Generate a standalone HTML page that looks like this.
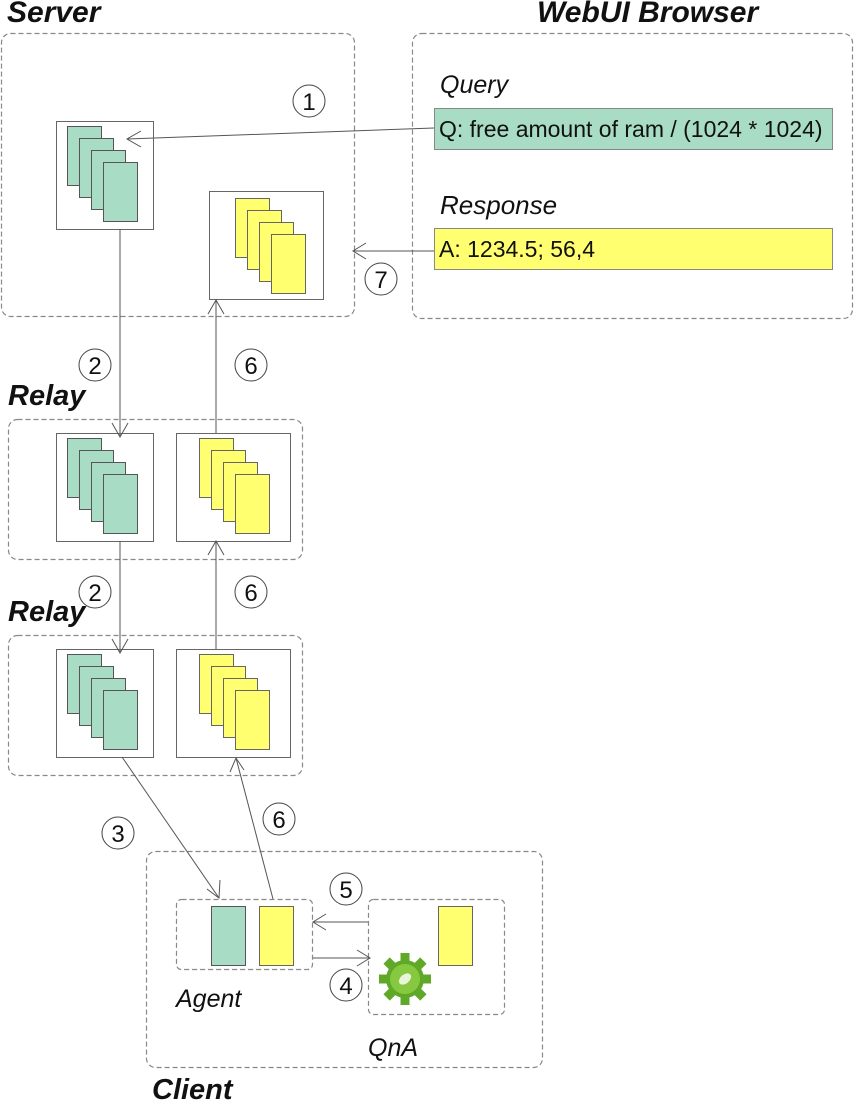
<!DOCTYPE html>
<html><head><meta charset="utf-8"><style>
html,body{margin:0;padding:0;background:#fff;}
svg{display:block;}
text{font-family:"Liberation Sans",Arial,sans-serif;fill:#111;}
.h{font-weight:bold;font-style:italic;font-size:30px;}
.i{font-style:italic;font-size:25px;}
.n{font-size:24px;}
</style></head><body>
<svg width="854" height="1102" viewBox="0 0 854 1102" xmlns="http://www.w3.org/2000/svg">
<defs>
<g id="gs"><rect x="0" y="0" width="34" height="59" fill="#a8dcc4" stroke="#555"/><rect x="12" y="12" width="34" height="59" fill="#a8dcc4" stroke="#555"/><rect x="24" y="24" width="34" height="59" fill="#a8dcc4" stroke="#555"/><rect x="36" y="36" width="34" height="59" fill="#a8dcc4" stroke="#555"/></g>
<g id="ys"><rect x="0" y="0" width="34" height="59" fill="#ffff70" stroke="#666"/><rect x="12" y="12" width="34" height="59" fill="#ffff70" stroke="#666"/><rect x="24" y="24" width="34" height="59" fill="#ffff70" stroke="#666"/><rect x="36" y="36" width="34" height="59" fill="#ffff70" stroke="#666"/></g>
</defs>
<g fill="none" stroke="#888" stroke-dasharray="5,3" stroke-width="1.2">
<rect x="1.5" y="33.5" width="353" height="283" rx="9"/>
<rect x="412.5" y="33.5" width="440" height="285" rx="9"/>
<rect x="8.5" y="419.5" width="294" height="140" rx="9"/>
<rect x="8.5" y="635.5" width="294" height="140" rx="9"/>
<rect x="146.5" y="851.5" width="396" height="216" rx="9"/>
<rect x="176.5" y="899.5" width="136" height="70" rx="5"/>
<rect x="368.5" y="899.5" width="136" height="115" rx="5"/>
</g>
<text class="h" x="7" y="22">Server</text>
<text class="h" x="537" y="22">WebUI Browser</text>
<text class="h" x="8" y="405" style="font-size:29px">Relay</text>
<text class="h" x="8" y="621" style="font-size:29px">Relay</text>
<text class="h" x="152" y="1099" style="font-size:29px">Client</text>
<text class="i" x="440" y="93">Query</text>
<text class="i" x="440" y="214" style="font-size:26px">Response</text>
<text class="i" x="176" y="1007">Agent</text>
<text class="i" x="368" y="1056">QnA</text>
<rect x="434.5" y="108.5" width="398" height="41" fill="#a8dcc4" stroke="#888"/>
<text x="439" y="137" style="font-size:23px">Q: free amount of ram / (1024 * 1024)</text>
<rect x="434.5" y="228.5" width="398" height="41" fill="#ffff70" stroke="#888"/>
<text x="439" y="257" style="font-size:23px">A: 1234.5; 56,4</text>
<g fill="#fff" stroke="#666">
<rect x="56.5" y="121.5" width="97" height="108"/>
<rect x="209.5" y="191.5" width="114" height="108"/>
<rect x="56.5" y="433.5" width="97" height="108"/>
<rect x="176.5" y="433.5" width="114" height="108"/>
<rect x="56.5" y="649.5" width="97" height="108"/>
<rect x="176.5" y="649.5" width="114" height="108"/>
</g>
<use href="#gs" x="67.5" y="126.5"/>
<use href="#ys" x="235.5" y="198.5"/>
<use href="#gs" x="67.5" y="438.5"/>
<use href="#ys" x="199.5" y="438.5"/>
<use href="#gs" x="67.5" y="654.5"/>
<use href="#ys" x="199.5" y="654.5"/>
<rect x="211.5" y="906.5" width="34" height="59" fill="#a8dcc4" stroke="#555"/>
<rect x="259.5" y="906.5" width="34" height="59" fill="#ffff70" stroke="#666"/>
<rect x="438.5" y="906.5" width="34" height="59" fill="#ffff70" stroke="#666"/>
<g stroke="#555" fill="none" stroke-width="1">
<line x1="434" y1="128" x2="127" y2="139"/><polyline points="141,131 127,139 141,147"/>
<line x1="434" y1="251" x2="353" y2="251"/><polyline points="366,243 353,251 366,259"/>
<line x1="120" y1="229" x2="120" y2="437"/><polyline points="112,423 120,437 128,423"/>
<line x1="216" y1="300" x2="216" y2="433"/><polyline points="208,314 216,300 224,314"/>
<line x1="120" y1="541" x2="120" y2="653"/><polyline points="112,639 120,653 128,639"/>
<line x1="216" y1="541" x2="216" y2="649"/><polyline points="208,555 216,541 224,555"/>
<line x1="122" y1="757" x2="219" y2="898"/><polyline points="207,889 219,898 220,880"/>
<line x1="273" y1="899" x2="236" y2="758"/><polyline points="230,772 236,758 244,770"/>
<line x1="368" y1="922" x2="313" y2="922"/><polyline points="326,914 313,922 326,930"/>
<line x1="313" y1="958" x2="370" y2="958"/><polyline points="357,950 370,958 357,966"/>
</g>
<g fill="#fff" stroke="#444" stroke-width="1">
<circle cx="309" cy="101" r="16"/><circle cx="381" cy="279" r="16"/>
<circle cx="95" cy="365" r="16"/><circle cx="251" cy="365" r="16"/>
<circle cx="95" cy="592" r="16" fill="none"/><circle cx="251" cy="592" r="16"/>
<circle cx="118" cy="833" r="16"/><circle cx="279" cy="819" r="16"/>
<circle cx="346" cy="889" r="16"/><circle cx="346" cy="985" r="16"/>
</g>
<g text-anchor="middle">
<text class="n" x="309" y="110">1</text><text class="n" x="381" y="288">7</text>
<text class="n" x="95" y="374">2</text><text class="n" x="251" y="374">6</text>
<text class="n" x="95" y="601">2</text><text class="n" x="251" y="601">6</text>
<text class="n" x="118" y="842">3</text><text class="n" x="279" y="828">6</text>
<text class="n" x="346" y="898">5</text><text class="n" x="346" y="994">4</text>
</g>
<g transform="translate(405,979)">
<g fill="#5fa828">
<circle r="19"/>
<rect x="-4.5" y="-26" width="9" height="52"/>
<rect x="-4.5" y="-26" width="9" height="52" transform="rotate(45)"/>
<rect x="-4.5" y="-26" width="9" height="52" transform="rotate(90)"/>
<rect x="-4.5" y="-26" width="9" height="52" transform="rotate(135)"/>
</g>
<circle r="15" fill="#86c940"/>
<ellipse rx="7" ry="4.5" transform="rotate(-40)" fill="#e8f5d8"/>
</g>
</svg>
</body></html>
